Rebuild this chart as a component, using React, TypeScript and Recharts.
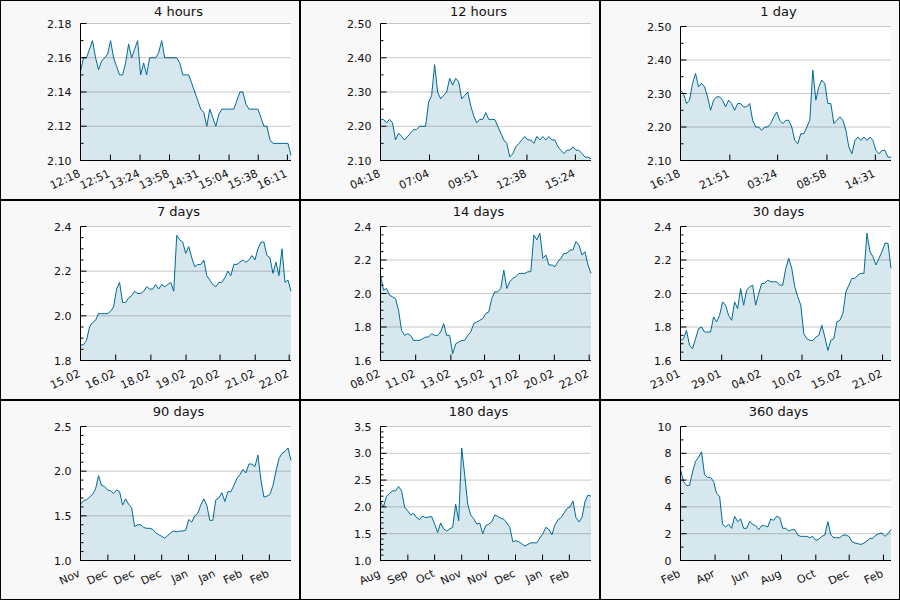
import { Area, AreaChart, CartesianGrid, ReferenceLine, XAxis, YAxis } from "recharts";

const FONT = "'DejaVu Sans', sans-serif";
const LINE = "#006a96";

// sampled price series, one value per ~3px of plot width
const hours4 = [
  2.152, 2.16, 2.16, 2.165, 2.17, 2.16, 2.153, 2.158, 2.16, 2.162,
  2.17, 2.16, 2.155, 2.15, 2.15, 2.157, 2.168, 2.16, 2.165, 2.17,
  2.15, 2.157, 2.15, 2.16, 2.16, 2.16, 2.163, 2.17, 2.16, 2.16,
  2.16, 2.16, 2.16, 2.157, 2.15, 2.15, 2.15, 2.145, 2.14, 2.135,
  2.13, 2.128, 2.12, 2.13, 2.125, 2.12, 2.127, 2.13, 2.13, 2.13,
  2.13, 2.13, 2.135, 2.14, 2.14, 2.133, 2.13, 2.13, 2.13, 2.13,
  2.125, 2.12, 2.12, 2.112, 2.11, 2.11, 2.11, 2.11, 2.11, 2.11, 2.103,
];
const hours12 = [
  2.22, 2.22, 2.21, 2.22, 2.21, 2.16, 2.18, 2.17, 2.16, 2.17,
  2.18, 2.19, 2.19, 2.2, 2.2, 2.2, 2.27, 2.29, 2.38, 2.3,
  2.28, 2.29, 2.3, 2.34, 2.32, 2.34, 2.33, 2.28, 2.29, 2.3,
  2.26, 2.23, 2.21, 2.22, 2.22, 2.24, 2.22, 2.22, 2.22, 2.2,
  2.18, 2.16, 2.15, 2.11, 2.12, 2.14, 2.15, 2.16, 2.17, 2.16,
  2.16, 2.15, 2.17, 2.16, 2.17, 2.16, 2.17, 2.16, 2.16, 2.14,
  2.13, 2.12, 2.13, 2.13, 2.14, 2.13, 2.13, 2.12, 2.11, 2.11, 2.105,
];
const day1 = [
  2.31, 2.3, 2.27, 2.28, 2.33, 2.36, 2.32, 2.33, 2.32, 2.29,
  2.25, 2.28, 2.29, 2.29, 2.28, 2.26, 2.28, 2.27, 2.25, 2.27,
  2.27, 2.26, 2.26, 2.27, 2.22, 2.2, 2.2, 2.19, 2.2, 2.2,
  2.21, 2.23, 2.245, 2.22, 2.21, 2.22, 2.22, 2.2, 2.16, 2.15,
  2.18, 2.18, 2.2, 2.22, 2.37, 2.28, 2.32, 2.34, 2.33, 2.27,
  2.27, 2.21, 2.22, 2.23, 2.22, 2.19, 2.14, 2.12, 2.16, 2.17,
  2.16, 2.17, 2.16, 2.17, 2.16, 2.13, 2.12, 2.13, 2.13, 2.11, 2.11,
];
const days7 = [
  1.87, 1.87, 1.89, 1.95, 1.97, 1.98, 2.01, 2.01, 2.01, 2.01,
  2.02, 2.04, 2.12, 2.15, 2.06, 2.06, 2.08, 2.09, 2.11, 2.1,
  2.1, 2.11, 2.13, 2.12, 2.12, 2.14, 2.12, 2.14, 2.13, 2.14,
  2.15, 2.11, 2.36, 2.34, 2.33, 2.28, 2.31, 2.26, 2.22, 2.23,
  2.23, 2.25, 2.18, 2.16, 2.14, 2.13, 2.15, 2.15, 2.17, 2.2,
  2.18, 2.23, 2.23, 2.24, 2.25, 2.24, 2.25, 2.27, 2.25, 2.3,
  2.33, 2.33, 2.27, 2.26, 2.19, 2.24, 2.18, 2.3, 2.15, 2.16, 2.11,
];
const days14 = [
  2.11, 2.02, 2.03, 1.99, 1.98, 1.97, 1.9, 1.78, 1.75, 1.76,
  1.75, 1.72, 1.72, 1.72, 1.73, 1.74, 1.74, 1.76, 1.75, 1.75,
  1.77, 1.82, 1.75, 1.75, 1.64, 1.7, 1.71, 1.72, 1.72, 1.75,
  1.77, 1.82, 1.83, 1.84, 1.85, 1.88, 1.89, 1.97, 2.01, 2.01,
  2.03, 2.14, 2.03, 2.07, 2.09, 2.1, 2.12, 2.12, 2.12, 2.13,
  2.13, 2.35, 2.32, 2.36, 2.21, 2.23, 2.17, 2.17, 2.16, 2.19,
  2.21, 2.24, 2.24, 2.26, 2.26, 2.31, 2.29, 2.23, 2.25, 2.17, 2.12,
];
const days30 = [
  1.72, 1.73, 1.78, 1.69, 1.67, 1.73, 1.79, 1.8, 1.77, 1.77,
  1.77, 1.86, 1.83, 1.87, 1.95, 1.93, 1.87, 1.84, 1.95, 1.91,
  2.03, 1.93, 2.02, 2.04, 2.05, 1.93, 2.0, 2.06, 2.06, 2.08,
  2.07, 2.07, 2.07, 2.05, 2.05, 2.15, 2.21, 2.15, 2.04, 1.98,
  1.93, 1.76, 1.73, 1.72, 1.72, 1.74, 1.75, 1.81, 1.74, 1.66,
  1.72, 1.73, 1.83, 1.84, 1.88, 2.01, 2.05, 2.09, 2.09, 2.11,
  2.12, 2.12, 2.36, 2.25, 2.22, 2.17, 2.21, 2.25, 2.3, 2.3, 2.15,
];
const days90 = [
  1.63, 1.67, 1.68, 1.71, 1.74, 1.8, 1.95, 1.84, 1.83, 1.79,
  1.78, 1.75, 1.79, 1.77, 1.62, 1.69, 1.63, 1.59, 1.38, 1.4,
  1.4, 1.37, 1.36, 1.36, 1.35, 1.31, 1.29, 1.27, 1.25, 1.28,
  1.31, 1.33, 1.32, 1.33, 1.33, 1.34, 1.46, 1.43, 1.5, 1.53,
  1.62, 1.69, 1.62, 1.45, 1.45, 1.68, 1.7, 1.76, 1.66, 1.77,
  1.77, 1.84, 1.92, 1.96, 2.02, 1.98, 2.08, 2.08, 2.05, 2.18,
  1.9, 1.71, 1.72, 1.74, 1.84, 2.0, 2.14, 2.2, 2.22, 2.26, 2.12,
];
const days180 = [
  2.1, 2.0, 2.2, 2.25, 2.3, 2.3, 2.38, 2.3, 2.0, 1.93,
  1.85, 1.88, 1.8, 1.76, 1.83, 1.8, 1.81, 1.82, 1.68, 1.52,
  1.7, 1.59, 1.55, 1.59, 1.62, 2.05, 1.74, 3.1, 2.6, 2.05,
  1.85, 1.78, 1.68, 1.7, 1.5, 1.65, 1.68, 1.72, 1.85, 1.82,
  1.79, 1.77, 1.7, 1.62, 1.35, 1.37, 1.35, 1.31, 1.27, 1.3,
  1.33, 1.33, 1.33, 1.42, 1.5, 1.62, 1.58, 1.48, 1.66, 1.76,
  1.8, 1.88, 1.97, 2.0, 2.11, 1.8, 1.72, 1.8, 2.1, 2.22, 2.2,
];
const days360 = [
  6.8, 5.9, 5.6, 5.6, 6.6, 7.4, 7.7, 8.1, 6.4, 6.2,
  6.2, 5.9, 5.0, 4.8, 2.7, 2.5, 2.7, 2.4, 3.3, 2.9,
  3.1, 2.4, 2.4, 2.9, 2.7, 2.6, 2.3, 2.6, 2.6, 2.5,
  3.1, 3.0, 3.3, 3.2, 2.4, 2.4, 2.2, 2.3, 2.3, 1.9,
  1.8, 1.8, 1.8, 1.7, 1.8, 1.5, 1.6, 1.8, 1.9, 2.9,
  1.9, 1.7, 1.7, 1.7, 1.9, 1.9, 1.8, 1.4, 1.3, 1.25,
  1.2, 1.3, 1.45, 1.65, 1.65, 1.9, 2.0, 2.05, 1.8, 2.0, 2.3,
];

// x tick positions (in sample units) and their labels
const hours4Ticks = [0, 9.95, 19.8, 29.6, 39.5, 49.4, 59.1, 68.8];
const hours4Labels = ["12:18", "12:51", "13:24", "13:58", "14:31", "15:04", "15:38", "16:11"];
const hours12Ticks = [0, 16.3, 32.6, 48.7, 64.8];
const hours12Labels = ["04:18", "07:04", "09:51", "12:38", "15:24"];
const day1Ticks = [0, 16.4, 32.3, 48.7, 64.8];
const day1Labels = ["16:18", "21:51", "03:24", "08:58", "14:31"];
const days7Ticks = [0, 11.7, 23.4, 35.1, 46.4, 58.1, 69.4];
const days7Labels = ["15.02", "16.02", "18.02", "19.02", "20.02", "21.02", "22.02"];
const days14Ticks = [0, 11.7, 23.4, 34.6, 46.2, 57.8, 69.4];
const days14Labels = ["08.02", "11.02", "13.02", "15.02", "17.02", "20.02", "22.02"];
const days30Ticks = [0, 13.7, 27.0, 40.4, 53.6, 67.2];
const days30Labels = ["23.01", "29.01", "04.02", "10.02", "15.02", "21.02"];
const monthTicks8 = [0, 9.1, 18.0, 27.0, 35.9, 44.9, 53.9, 62.8];
const days90Labels = ["Nov", "Dec", "Dec", "Dec", "Jan", "Jan", "Feb", "Feb"];
const days180Labels = ["Aug", "Sep", "Oct", "Nov", "Nov", "Dec", "Jan", "Feb"];
const days360Ticks = [0, 11.5, 22.7, 33.6, 45.0, 56.1, 67.5];
const days360Labels = ["Feb", "Apr", "Jun", "Aug", "Oct", "Dec", "Feb"];

type Panel = {
  title: string;
  values: number[];
  xTicks: number[];
  xLabels: string[];
  yMin: number;
  yMax: number;
  minorStep: number;
  majorStep: number;
  decimals: number;
  top: number;
};

const panels: Panel[] = [
  { title: "4 hours", values: hours4, xTicks: hours4Ticks, xLabels: hours4Labels, yMin: 2.1, yMax: 2.18, minorStep: 0.01, majorStep: 0.02, decimals: 2, top: 22.5 },
  { title: "12 hours", values: hours12, xTicks: hours12Ticks, xLabels: hours12Labels, yMin: 2.1, yMax: 2.5, minorStep: 0.05, majorStep: 0.1, decimals: 2, top: 22.5 },
  { title: "1 day", values: day1, xTicks: day1Ticks, xLabels: day1Labels, yMin: 2.1, yMax: 2.5, minorStep: 0.05, majorStep: 0.1, decimals: 2, top: 25.5 },
  { title: "7 days", values: days7, xTicks: days7Ticks, xLabels: days7Labels, yMin: 1.8, yMax: 2.4, minorStep: 0.05, majorStep: 0.2, decimals: 1, top: 25.5 },
  { title: "14 days", values: days14, xTicks: days14Ticks, xLabels: days14Labels, yMin: 1.6, yMax: 2.4, minorStep: 0.05, majorStep: 0.2, decimals: 1, top: 25.5 },
  { title: "30 days", values: days30, xTicks: days30Ticks, xLabels: days30Labels, yMin: 1.6, yMax: 2.4, minorStep: 0.05, majorStep: 0.2, decimals: 1, top: 25.5 },
  { title: "90 days", values: days90, xTicks: monthTicks8, xLabels: days90Labels, yMin: 1.0, yMax: 2.5, minorStep: 0.1, majorStep: 0.5, decimals: 1, top: 25.5 },
  { title: "180 days", values: days180, xTicks: monthTicks8, xLabels: days180Labels, yMin: 1.0, yMax: 3.5, minorStep: 0.1, majorStep: 0.5, decimals: 1, top: 25.5 },
  { title: "360 days", values: days360, xTicks: days360Ticks, xLabels: days360Labels, yMin: 0, yMax: 10, minorStep: 1, majorStep: 2, decimals: 0, top: 25.5 },
];

function steps(min: number, max: number, step: number) {
  const n = Math.round((max - min) / step);
  return Array.from({ length: n + 1 }, (_, k) => +(min + k * step).toFixed(4));
}

function XTick(props: any) {
  const { x, y, index, labels } = props;
  const lx = x + 0.5;
  const ly = y + 15.5;
  return (
    <g>
      <line x1={x} y1={y} x2={x} y2={y - 6} stroke="#000" />
      <text
        x={lx}
        y={ly}
        transform={`rotate(-25 ${lx} ${ly})`}
        textAnchor="end"
        fontSize={11}
        fontFamily={FONT}
        fill="#111"
      >
        {labels[index]}
      </text>
    </g>
  );
}

function YTick(props: any) {
  const { x, y, payload, majors, decimals } = props;
  const major = majors.some((m: number) => Math.abs(m - payload.value) < 1e-6);
  return (
    <g>
      <line x1={x} y1={y} x2={x + (major ? 6 : 3)} y2={y} stroke="#000" />
      {major && (
        <text x={x - 9} y={y} dy={4} textAnchor="end" fontSize={11} fontFamily={FONT} fill="#111">
          {payload.value.toFixed(decimals)}
        </text>
      )}
    </g>
  );
}

function PanelChart({ p }: { p: Panel }) {
  const data = p.values.map((v, i) => ({ i, v }));
  const yTicks = steps(p.yMin, p.yMax, p.minorStep);
  const majors = steps(p.yMin, p.yMax, p.majorStep);
  return (
    <div
      style={{
        position: "relative",
        width: 300,
        height: 200,
        boxSizing: "border-box",
        border: "1px solid #000",
        background: "#f8f8f8",
      }}
    >
      <div
        style={{
          position: "absolute",
          left: 0,
          top: 3,
          width: 355,
          textAlign: "center",
          fontFamily: FONT,
          fontSize: 13,
          lineHeight: "15px",
          color: "#111",
        }}
      >
        {p.title}
      </div>
      <AreaChart
        width={298}
        height={198}
        data={data}
        margin={{ top: p.top, right: 8, bottom: 0, left: 0.5 }}
      >
        <CartesianGrid horizontal={false} vertical={false} fill="#fff" />
        {majors.map((m) => (
          <ReferenceLine key={m} y={m} stroke="rgba(0,0,0,0.21)" strokeWidth={1} />
        ))}
        <XAxis
          dataKey="i"
          type="number"
          domain={[0, p.values.length - 1]}
          ticks={p.xTicks}
          interval={0}
          height={38.5}
          tickSize={0}
          tickMargin={0}
          tickLine={false}
          axisLine={{ stroke: "#000" }}
          tick={(t: any) => <XTick {...t} labels={p.xLabels} />}
        />
        <YAxis
          type="number"
          domain={[p.yMin, p.yMax]}
          ticks={yTicks}
          interval={0}
          width={79}
          allowDataOverflow
          tickSize={0}
          tickMargin={0}
          tickLine={false}
          axisLine={{ stroke: "#000" }}
          tick={(t: any) => <YTick {...t} majors={majors} decimals={p.decimals} />}
        />
        <Area
          type="linear"
          dataKey="v"
          stroke={LINE}
          strokeWidth={1}
          fill={LINE}
          fillOpacity={0.16}
          dot={false}
          activeDot={false}
          isAnimationActive={false}
        />
      </AreaChart>
    </div>
  );
}

export default function App() {
  return (
    <div
      style={{
        position: "absolute",
        left: 0,
        top: 0,
        width: 900,
        height: 600,
        display: "grid",
        gridTemplateColumns: "300px 300px 300px",
        gridTemplateRows: "200px 200px 200px",
        background: "#fff",
      }}
    >
      {panels.map((p) => (
        <PanelChart key={p.title} p={p} />
      ))}
    </div>
  );
}
